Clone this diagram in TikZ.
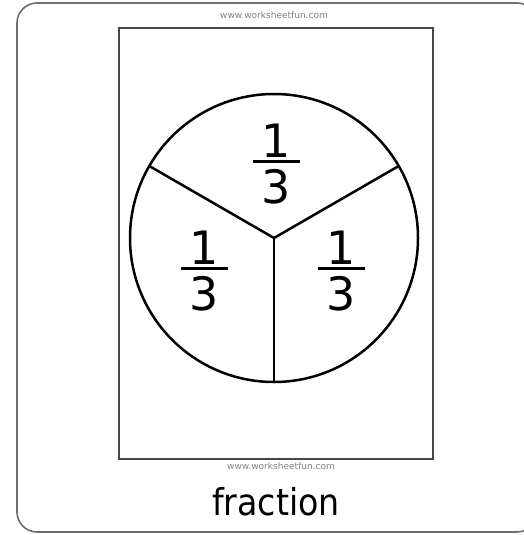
\documentclass[tikz,border=0pt]{standalone}
\usepackage{fontspec}
\setmainfont{DejaVu Sans}
\newfontfamily\condensed{DejaVu Sans Condensed}
\definecolor{framegray}{RGB}{110,110,110}
\definecolor{sheetgray}{RGB}{70,70,70}
\newcommand{\onethird}{\vbox{\offinterlineskip\halign{\hfil##\hfil\cr
  1\cr\noalign{\kern3pt}\rule{47pt}{3pt}\cr\noalign{\kern6pt}3\cr}}}

\begin{document}
\begin{tikzpicture}[x=1pt, y=-1pt,
    frac/.style={font=\fontsize{46}{48}\selectfont, inner sep=0pt},
    web/.style={font=\fontsize{9}{10}\selectfont, text=gray}
  ]
  \useasboundingbox (0,0) rectangle (524,535);
  % outer card and sheet
  \draw[framegray, line width=1.6pt, rounded corners=20pt] (17,3) rectangle (537,532);
  \draw[sheetgray, line width=1.9pt] (119,28) rectangle (433,459);

  % circle cut in thirds (y points down, so angles run clockwise)
  \coordinate (c) at (274,238);
  \draw[line width=2.5pt] (c) circle (144);
  \draw[line width=2.5pt] (c) -- ++(90:144) coordinate (s);
  \draw[line width=2.5pt] (c) -- ++(210:144) coordinate (l);
  \draw[line width=2.5pt] (c) -- ++(330:144) coordinate (r);

  \node[frac] (top) at (276,164) {\onethird};
  \node[frac] (left) at (204,271) {\onethird};
  \node[frac] (right) at (341,271) {\onethird};

  \node[web] (webtop) at (274,15) {www.worksheetfun.com};
  \node[web] (webbot) at (281,466) {www.worksheetfun.com};
  \node[font=\condensed\fontsize{37}{40}\selectfont] (label) at (276,502) {fraction};
\end{tikzpicture}
\end{document}
